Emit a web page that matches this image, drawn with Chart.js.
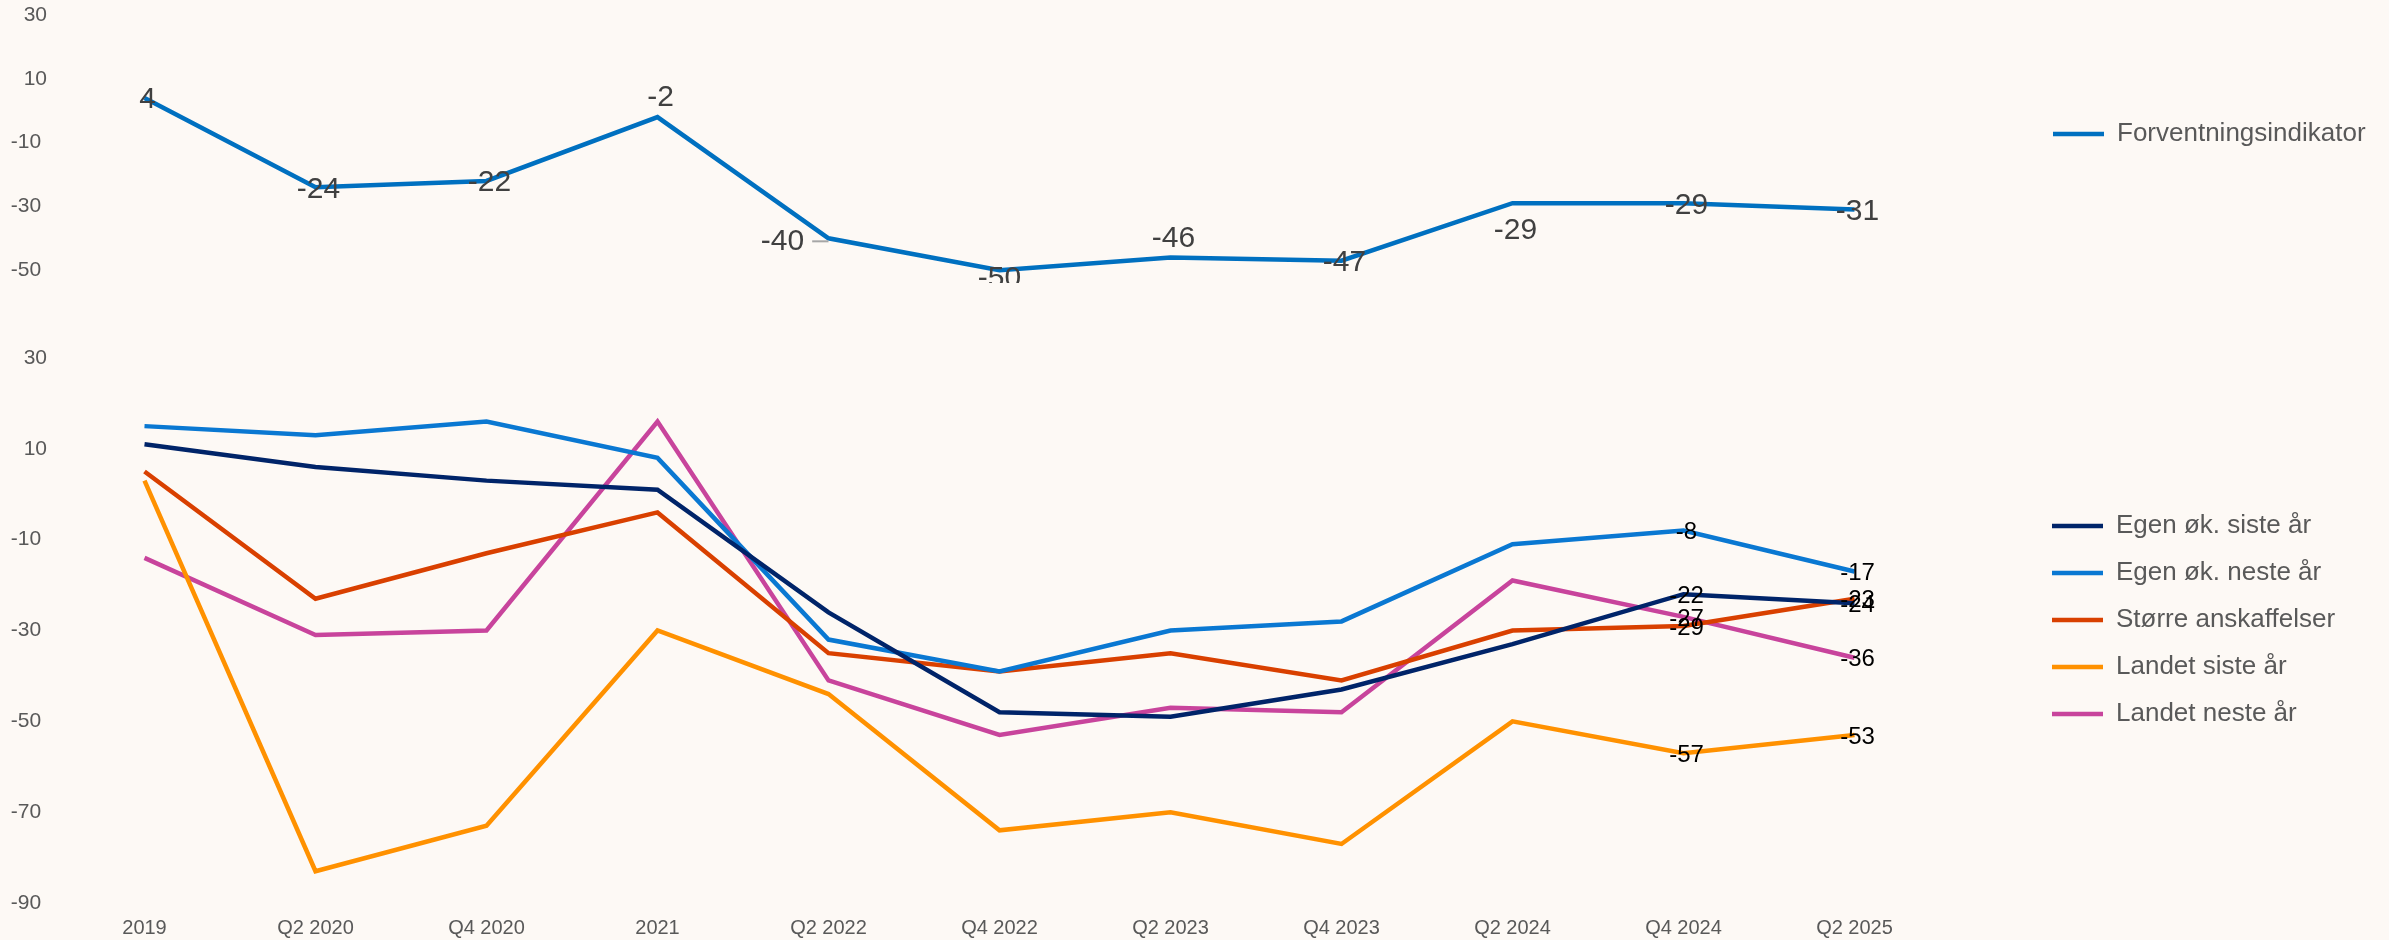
<!DOCTYPE html>
<html lang="no">
<head>
<meta charset="utf-8">
<title>Forventningsindikator</title>
<script src="https://cdn.jsdelivr.net/npm/chart.js@4.4.1/dist/chart.umd.min.js"></script>
<style>
    html, body {
        margin: 0;
        padding: 0;
        background: #FDF9F5;
        overflow: hidden;
    }
    canvas {
        display: block;
    }
</style>
</head>
<body>
<canvas id="topChart" width="2389" height="300"></canvas>
<canvas id="bottomChart" width="2389" height="640"></canvas>

<script>
/**
 * Data
 */
const categories = ['2019', 'Q2 2020', 'Q4 2020', '2021', 'Q2 2022', 'Q4 2022', 'Q2 2023', 'Q4 2023', 'Q2 2024', 'Q4 2024', 'Q2 2025'];

const forventning = [4, -24, -22, -2, -40, -50, -46, -47, -29, -29, -31];

const egenSiste = [11, 6, 3, 1, -26, -48, -49, -43, -33, -22, -24];
const egenNeste = [15, 13, 16, 8, -32, -39, -30, -28, -11, -8, -17];
const anskaffelser = [5, -23, -13, -4, -35, -39, -35, -41, -30, -29, -23];
const landetSiste = [3, -83, -73, -30, -44, -74, -70, -77, -50, -57, -53];
const landetNeste = [-14, -31, -30, 16, -41, -53, -47, -48, -19, -27, -36];

const topTicks = [30, 10, -10, -30, -50];
const bottomTicks = [30, 10, -10, -30, -50, -70, -90];

const FONT = "'Liberation Sans', Arial, sans-serif";
const TICK_COLOR = '#595959';

/**
 * Forces the legend box to a fixed width so both panels line up
 */
const legendBox = {
    id: 'legendBox',
    beforeLayout(chart, args, opts) {
        const legend = chart.legend;
        if (!legend || legend._fixedWidth) return;
        const fit = legend.fit;
        legend.fit = function () {
            fit.call(this);
            this.width = opts.width;
        };
        legend._fixedWidth = true;
    }
};

/**
 * Value labels next to the points
 */
const offsets = {
    c: [3, 2],
    t: [3, -19],
    b: [3, 27],
    n: [0, 8],
    l: [-46, 3]
};

const pointLabels = {
    id: 'pointLabels',
    afterDatasetsDraw(chart, args, opts) {
        const { ctx, chartArea } = chart;
        ctx.save();
        ctx.beginPath();
        ctx.rect(chartArea.left, chartArea.top, chartArea.right - chartArea.left, chartArea.bottom - chartArea.top);
        ctx.clip();
        ctx.font = `${opts.size}px ${FONT}`;
        ctx.textAlign = 'center';
        ctx.textBaseline = 'middle';

        chart.data.datasets.forEach((ds, di) => {
            const meta = chart.getDatasetMeta(di);
            meta.data.forEach((pt, i) => {
                if (i < (opts.from || 0)) return;
                const place = (opts.place && opts.place[i]) || 'c';
                const [dx, dy] = offsets[place];
                const text = String(ds.data[i]);
                const x = pt.x + dx;
                const y = pt.y + dy;

                if (place === 'l') {
                    // short leader line back to the point
                    const w = ctx.measureText(text).width;
                    ctx.strokeStyle = '#A6A6A6';
                    ctx.lineWidth = 2;
                    ctx.beginPath();
                    ctx.moveTo(x + w / 2 + 8, y);
                    ctx.lineTo(pt.x, y);
                    ctx.stroke();
                }

                ctx.fillStyle = opts.color;
                ctx.fillText(text, x, y);
            });
        });
        ctx.restore();
    }
};

function lineSet(label, data, color) {
    return {
        label: label,
        data: data,
        borderColor: color,
        backgroundColor: color,
        borderWidth: 4.5,
        pointRadius: 0,
        pointHoverRadius: 0,
        tension: 0
    };
}

function yScale(min, max, ticks, zeroLine) {
    return {
        min: min,
        max: max,
        afterBuildTicks: scale => {
            scale.ticks = ticks.map(v => ({ value: v }));
        },
        afterFit: scale => {
            scale.width = 59;
        },
        border: { display: false },
        grid: {
            display: zeroLine,
            drawTicks: true,
            tickLength: 12,
            tickColor: 'rgba(0,0,0,0)',
            lineWidth: 2,
            color: ctx => (ctx.tick && ctx.tick.value === 0 ? '#D9D9D9' : 'rgba(0,0,0,0)')
        },
        ticks: {
            padding: 0,
            color: TICK_COLOR,
            font: { family: FONT, size: 21, lineHeight: 0.6 },
            // negative numbers carry a trailing space, as in the source format
            callback: value => (value < 0 ? `${value} ` : `${value}`)
        }
    };
}

// empty axis used only to reserve space
function spacer(position, size) {
    return {
        type: 'linear',
        position: position,
        grid: { display: false },
        border: { display: false },
        ticks: { display: false },
        afterFit: scale => {
            if (position === 'top' || position === 'bottom') scale.height = size;
            else scale.width = size;
        }
    };
}

function legendOptions(padding, align) {
    return {
        position: 'right',
        align: align,
        labels: {
            usePointStyle: true,
            pointStyle: 'line',
            pointStyleWidth: 51,
            padding: padding,
            color: TICK_COLOR,
            font: { family: FONT, size: 26 }
        }
    };
}

/**
 * Top panel: Forventningsindikator
 */
function renderTopChart() {
    new Chart(document.getElementById('topChart'), {
        type: 'line',
        data: {
            labels: categories,
            datasets: [lineSet('Forventningsindikator', forventning, '#0070C0')]
        },
        options: {
            responsive: false,
            animation: false,
            layout: { padding: { top: 8, bottom: 10, left: 0, right: 0 } },
            scales: {
                x: { offset: true, display: false },
                xTop: spacer('top', 7),
                xBottom: spacer('bottom', 7),
                y: yScale(-54, 30, topTicks, false)
            },
            plugins: {
                legend: legendOptions(113, 'start'),
                legendBox: { width: 449 },
                tooltip: { enabled: false },
                pointLabels: {
                    size: 30,
                    color: '#404040',
                    place: ['c', 'c', 'c', 't', 'l', 'n', 't', 'c', 'b', 'c', 'c']
                }
            }
        },
        plugins: [legendBox, pointLabels]
    });
}

/**
 * Bottom panel: the five sub-questions
 */
function renderBottomChart() {
    new Chart(document.getElementById('bottomChart'), {
        type: 'line',
        data: {
            labels: categories,
            datasets: [
                lineSet('Egen øk. siste år', egenSiste, '#002469'),
                lineSet('Egen øk. neste år', egenNeste, '#0A78D2'),
                lineSet('Større anskaffelser', anskaffelser, '#D94000'),
                lineSet('Landet siste år', landetSiste, '#FF9100'),
                lineSet('Landet neste år', landetNeste, '#C8449C')
            ]
        },
        options: {
            responsive: false,
            animation: false,
            layout: { padding: 0 },
            scales: {
                x: {
                    offset: true,
                    grid: { display: false, drawTicks: false },
                    border: { display: false },
                    afterFit: scale => {
                        scale.height = 37;
                    },
                    ticks: {
                        padding: 13,
                        maxRotation: 0,
                        autoSkip: false,
                        color: TICK_COLOR,
                        font: { family: FONT, size: 20 }
                    }
                },
                xTop: spacer('top', 58),
                y: yScale(-90, 30, bottomTicks, true),
                yGap: spacer('right', 91)
            },
            plugins: {
                legend: legendOptions(21, 'center'),
                legendBox: { width: 358 },
                tooltip: { enabled: false },
                pointLabels: {
                    size: 24,
                    color: '#000000',
                    from: 9
                }
            }
        },
        plugins: [legendBox, pointLabels]
    });
}

renderTopChart();
renderBottomChart();
</script>
</body>
</html>
